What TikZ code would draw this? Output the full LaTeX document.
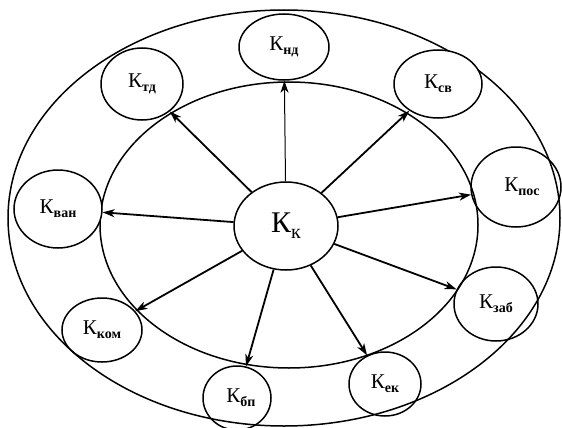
\documentclass[tikz,border=0pt]{standalone}
\usepackage{fontspec}
\setmainfont{Liberation Serif}
\usetikzlibrary{shapes.geometric,arrows.meta}
\newcommand\Kx[1]{К\raisebox{-0.45ex}{\fontsize{14}{14}\selectfont\bfseries #1}}
\tikzset{
  ring/.style={line width=1.5pt},
  sub/.style={ellipse, draw, line width=1.5pt, inner sep=0pt, font=\fontsize{21}{21}\selectfont},
  arr/.style={line width=1.8pt, -{Stealth[length=12pt,width=8pt,inset=3.5pt]}},
}
\begin{document}
\begin{tikzpicture}[x=1pt,y=-1pt]
\useasboundingbox (0,0) rectangle (562,428);
\draw[ring] (284,218) ellipse [x radius=276pt, y radius=208pt];
\draw[ring] (289,225) ellipse [x radius=189pt, y radius=143pt];
\node[sub, fill=white, minimum width=104pt, minimum height=88pt, font=\fontsize{30}{30}\selectfont] (kk) at (286,226) {К\raisebox{-0.45ex}{\fontsize{20}{20}\selectfont к}};
\node[sub, fill=white, minimum width=90pt, minimum height=66pt] (nd) at (284,47) {\Kx{нд}};
\node[sub, fill=white, minimum width=82pt, minimum height=72pt] (td) at (142,84) {\Kx{тд}};
\node[sub, fill=white, minimum width=88pt, minimum height=68pt] (sv) at (438,84) {\Kx{св}};
\node[sub, minimum width=90pt, minimum height=80pt] (pos) at (516,187) {\hspace*{12pt}\Kx{пос}};
\node[sub, fill=white, minimum width=88pt, minimum height=78pt] (van) at (58,209) {\Kx{ван}};
\node[sub, minimum width=84pt, minimum height=74pt] (zab) at (496,304) {\Kx{заб}};
\node[sub, minimum width=80pt, minimum height=64pt] (kom) at (102,330) {\Kx{ком}};
\node[sub, minimum width=68pt, minimum height=64pt] (bp) at (237,398) {\hspace*{8pt}\Kx{бп}};
\node[sub, minimum width=72pt, minimum height=64pt] (ek) at (385,384) {\Kx{ек}};
\draw[arr, line width=1pt] (kk) -- (nd);
\draw[arr] (kk) -- (td);
\draw[arr] (kk) -- (sv);
\draw[arr] (kk) -- (pos);
\draw[arr] (kk) -- (van);
\draw[arr] (kk) -- (zab);
\draw[arr] (kk) -- (kom);
\draw[arr] (kk) -- (bp);
\draw[arr] (kk) -- (ek);
\end{tikzpicture}
\end{document}
